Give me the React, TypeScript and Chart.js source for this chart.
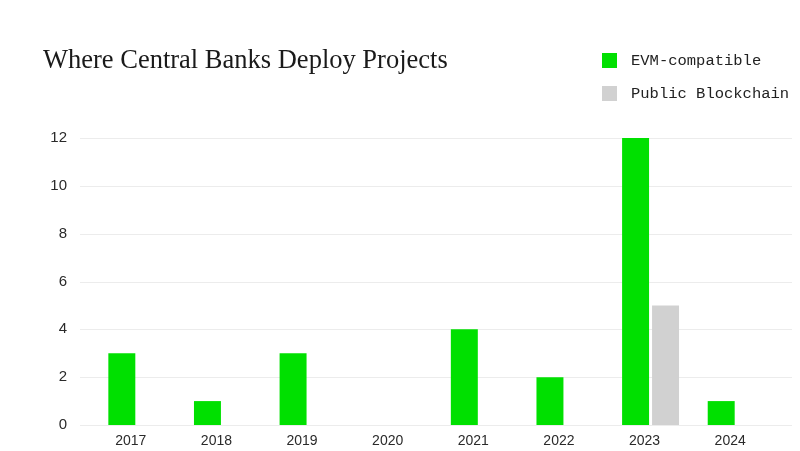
import React, { useEffect, useRef } from "react";
import { Chart, registerables } from "chart.js";

Chart.register(...registerables);

const TITLE = "Where Central Banks Deploy Projects";
const YEARS = ["2017", "2018", "2019", "2020", "2021", "2022", "2023", "2024"];
const EVM_LABEL = "EVM-compatible";
const PUBLIC_LABEL = "Public Blockchain";
const EVM_VALUES = [3, 1, 3, 0, 4, 2, 12, 1];
const PUBLIC_VALUES = [0, 0, 0, 0, 0, 0, 5, 0];
const Y_TICKS = [0, 2, 4, 6, 8, 10, 12];

const GREEN = "#00e000";
const GREY = "#d1d1d1";

const decorPlugin = {
  id: "decor",
  beforeDatasetsDraw(chart: any) {
    const ctx = chart.ctx;
    const y = chart.scales.y;
    ctx.save();
    ctx.strokeStyle = "#ececec";
    ctx.lineWidth = 1;
    y.ticks.forEach((t: any) => {
      const py = Math.round(y.getPixelForValue(t.value)) + 0.5;
      ctx.beginPath();
      ctx.moveTo(80, py);
      ctx.lineTo(792, py);
      ctx.stroke();
    });
    ctx.restore();
  },
  afterDraw(chart: any) {
    const ctx = chart.ctx;
    ctx.save();
    ctx.fillStyle = "#1a1a1a";
    ctx.font = "26.5px 'Liberation Serif', serif";
    ctx.textBaseline = "alphabetic";
    ctx.textAlign = "left";
    ctx.fillText(TITLE, 43, 68);
    ctx.font = "15.5px 'Liberation Mono', monospace";
    ctx.textBaseline = "middle";
    chart.data.datasets.forEach((ds: any, i: number) => {
      const top = 53 + i * 33;
      ctx.fillStyle = ds.backgroundColor;
      ctx.fillRect(602, top, 15, 15);
      ctx.fillStyle = "#222";
      ctx.fillText(ds.label, 631, top + 8);
    });
    ctx.restore();
  },
};

export default function App() {
  const ref = useRef<HTMLCanvasElement>(null);
  useEffect(() => {
    document.body.style.margin = "0";
    const chart = new Chart(ref.current!, {
      type: "bar",
      data: {
        labels: YEARS,
        datasets: [
          { label: EVM_LABEL, data: EVM_VALUES, backgroundColor: GREEN, borderWidth: 0 },
          { label: PUBLIC_LABEL, data: PUBLIC_VALUES, backgroundColor: GREY, borderWidth: 0 },
        ],
      },
      options: {
        animation: false,
        responsive: false,
        maintainAspectRatio: false,
        datasets: { bar: { categoryPercentage: 0.7, barPercentage: 0.9 } },
        layout: { padding: { left: 43, right: 21, top: 138, bottom: 0 } },
        plugins: { legend: { display: false }, title: { display: false }, tooltip: { enabled: false } },
        scales: {
          x: {
            grid: { display: false, drawTicks: false },
            border: { display: false },
            ticks: {
              color: "#2a2a2a",
              font: { family: "'Liberation Sans', sans-serif", size: 14 },
              padding: 7.5,
              labelOffset: -6,
              maxRotation: 0,
            },
            afterFit(scale: any) {
              scale.height = 26;
            },
          },
          y: {
            min: 0,
            max: 12,
            grid: { display: false, drawTicks: true, tickLength: 27 },
            border: { display: false },
            afterBuildTicks(scale: any) {
              scale.ticks = Y_TICKS.map((v) => ({ value: v }));
            },
            ticks: {
              color: "#2a2a2a",
              font: { family: "'Liberation Sans', sans-serif", size: 15 },
              padding: 0,
            },
            afterFit(scale: any) {
              scale.width = 51;
            },
          },
        },
      },
      plugins: [decorPlugin],
    });
    return () => chart.destroy();
  }, []);
  return <canvas ref={ref} width={800} height={451} style={{ display: "block" }} />;
}
